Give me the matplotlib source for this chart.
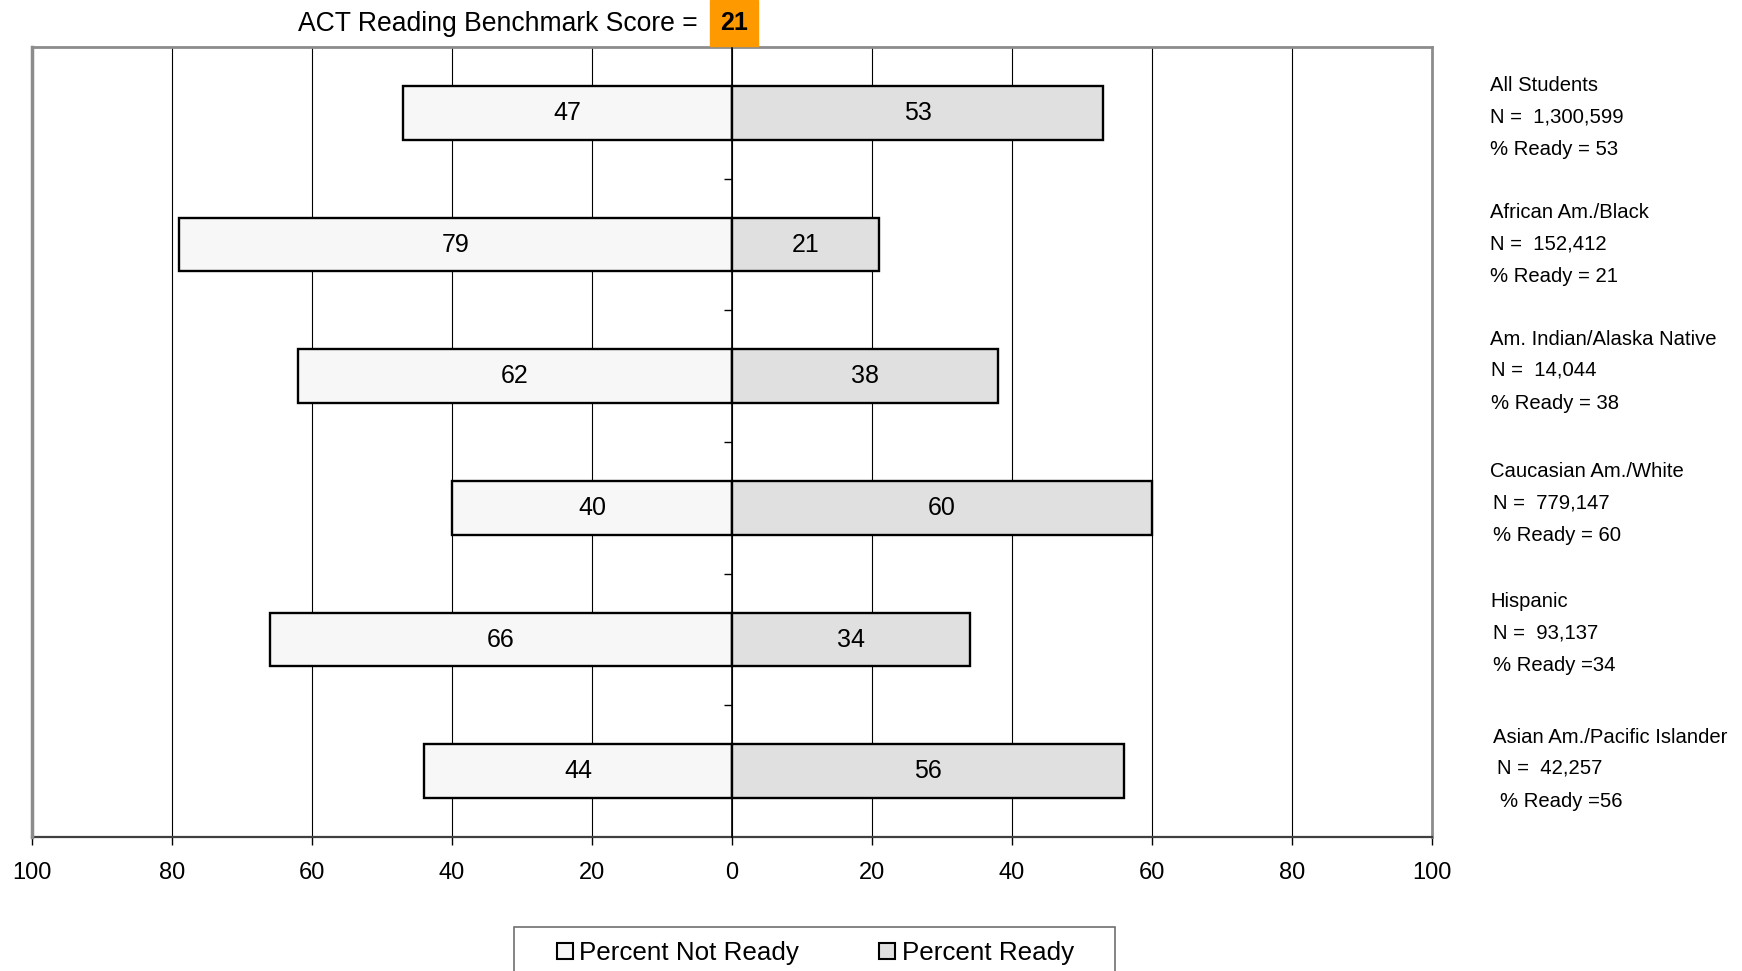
import matplotlib.pyplot as plt
from matplotlib.patches import Rectangle, Patch
from matplotlib.transforms import blended_transform_factory, offset_copy

plt.rcParams['font.family'] = ['Liberation Sans', 'DejaVu Sans']

groups = ['All Students', 'African Am./Black', 'Am. Indian/Alaska Native',
          'Caucasian Am./White', 'Hispanic', 'Asian Am./Pacific Islander']
n_text = ['N =  1,300,599', 'N =  152,412', 'N =  14,044',
          'N =  779,147', 'N =  93,137', 'N =  42,257']
ready_text = ['% Ready = 53', '% Ready = 21', '% Ready = 38',
              '% Ready = 60', '% Ready =34', '% Ready =56']
not_ready = [47, 79, 62, 40, 66, 44]
ready = [53, 21, 38, 60, 34, 56]
ticks = [-100, -80, -60, -40, -20, 0, 20, 40, 60, 80, 100]
tick_labels = ['100', '80', '60', '40', '20', '0', '20', '40', '60', '80', '100']
benchmark = 21

W, H = 1742, 971
fig = plt.figure(figsize=(W / 100, H / 100), dpi=100)
ax = fig.add_axes([32 / W, 1 - 837 / H, 1400 / W, 790 / H])

y = list(range(len(groups)))
left = ax.barh(y, [-v for v in not_ready], height=0.41, color='#f7f7f7',
               edgecolor='black', linewidth=1.7, zorder=3)
right = ax.barh(y, ready, height=0.41, color='#e0e0e0',
                edgecolor='black', linewidth=1.7, zorder=3)
ax.bar_label(left, labels=[str(v) for v in not_ready], label_type='center', fontsize=18)
ax.bar_label(right, labels=[str(v) for v in ready], label_type='center', fontsize=18)

ax.set_xlim(-100, 100)
ax.set_ylim(len(groups) - 0.5, -0.5)
ax.set_xticks(ticks)
ax.set_xticklabels(tick_labels, fontsize=17)
ax.tick_params(axis='x', direction='out', length=6, width=1, pad=12, colors='black')
for t in ticks:
    ax.axvline(t, color='black', linewidth=0.8, zorder=1)

# vertical axis sits at zero with small ticks between categories
ax.spines['left'].set_position(('data', 0))
ax.spines['left'].set_color('black')
ax.spines['left'].set_linewidth(1.2)
ax.spines['left'].set_zorder(4)
ax.set_yticks([i + 0.5 for i in range(len(groups) - 1)])
ax.set_yticklabels([])
ax.tick_params(axis='y', direction='out', length=6, width=1)
for s in ['top', 'right']:
    ax.spines[s].set_color('#8c8c8c')
    ax.spines[s].set_linewidth(2)
ax.spines['bottom'].set_color('#404040')
ax.spines['bottom'].set_linewidth(1.6)
ax.axvline(-100, color='#8c8c8c', linewidth=2.5, clip_on=False, zorder=5)

# group notes at the right (hand-placed text boxes, small per-group shifts)
tr = blended_transform_factory(fig.transFigure, ax.transData)
hx = [1490, 1490, 1490, 1490, 1490, 1493]
nx = [1490, 1490, 1491, 1493, 1493, 1497]
rx = [1490, 1490, 1491, 1493, 1493, 1500]
dy = [-7, -2, 3, 2, 4, 0]
for i, g in enumerate(groups):
    ax.text(hx[i] / W, i, g, transform=offset_copy(tr, fig=fig, y=34 + dy[i], units='dots'),
            fontsize=14.6, va='center', ha='left')
    ax.text(nx[i] / W, i, n_text[i], transform=offset_copy(tr, fig=fig, y=3 + dy[i], units='dots'),
            fontsize=14.6, va='center', ha='left')
    ax.text(rx[i] / W, i, ready_text[i], transform=offset_copy(tr, fig=fig, y=-30 + dy[i], units='dots'),
            fontsize=14.6, va='center', ha='left')

# title with orange score box
fig.text(298 / W, 1 - 24 / H, 'ACT Reading Benchmark Score =', fontsize=19.1,
         ha='left', va='center')
fig.patches.append(Rectangle((710 / W, 1 - 46 / H), 48 / W, 46 / H,
                             transform=fig.transFigure, color='#ff9900'))
fig.text(734 / W, 1 - 23 / H, str(benchmark), fontsize=18, fontweight='bold',
         ha='center', va='center')

# legend box running off the bottom edge
fig.patches.append(Rectangle((514 / W, -0.05), 601 / W, 0.05 + 1 - 927 / H,
                             transform=fig.transFigure, facecolor='white',
                             edgecolor='#707070', linewidth=1.2))
handles = [Patch(facecolor='#f7f7f7', edgecolor='black', linewidth=1.5),
           Patch(facecolor='#e0e0e0', edgecolor='black', linewidth=1.5)]
fig.legend(handles, ['Percent Not Ready', 'Percent Ready'], ncol=2, frameon=False,
           loc='center left', bbox_to_anchor=(557 / W, 1 - 953 / H), fontsize=18.7,
           handlelength=0.6, handleheight=0.6, handletextpad=0.25,
           columnspacing=3.1, borderpad=0, borderaxespad=0)

fig.savefig('out.png', dpi=100)
